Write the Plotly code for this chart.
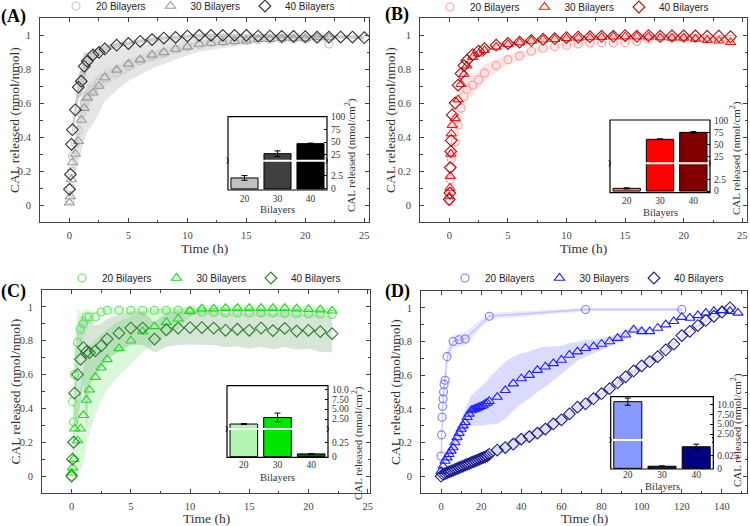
import plotly.graph_objects as go

W, H = 750, 526
SERIF = "Liberation Serif"
SANS = "Liberation Sans"


def fx(p):
    return p / W


def fy(p):
    return 1 - p / H


# ======================= DATA =======================
# ---- Panel A (grey) ----
A_t_early = [0, 0.083, 0.167, 0.25, 0.5, 0.75, 1, 1.25, 1.5, 2, 2.5, 3]
A_t20 = A_t_early + list(range(4, 23))
A_y20 = [0.03, 0.1, 0.2, 0.29, 0.36, 0.44, 0.54, 0.6, 0.64, 0.68, 0.72, 0.75,
         0.78, 0.82, 0.85, 0.875, 0.895, 0.915, 0.93, 0.945, 0.955, 0.96, 0.965,
         0.968, 0.972, 0.975, 0.976, 0.977, 0.975, 0.978, 0.947]
A_sd20 = [0, 0.02, 0.03, 0.04, 0.05, 0.06, 0.07, 0.07, 0.07, 0.06, 0.05, 0.05,
          0.04, 0.04, 0.03, 0.03, 0.03, 0.02, 0.02, 0.02, 0.02, 0.015, 0.015,
          0.01, 0.01, 0.01, 0.01, 0.01, 0.01, 0.01, 0.01]
A_t30 = A_t_early + list(range(4, 23))
A_y30 = [0.013, 0.05, 0.15, 0.25, 0.30, 0.375, 0.50, 0.57, 0.63, 0.66, 0.70, 0.75,
         0.795, 0.83, 0.855, 0.883, 0.898, 0.918, 0.93, 0.947, 0.953, 0.957, 0.963,
         0.967, 0.975, 0.975, 0.979, 0.979, 0.98, 0.986, 0.986]
A_sd30 = [0, 0.02, 0.04, 0.06, 0.1, 0.14, 0.18, 0.2, 0.2, 0.18, 0.16, 0.14,
          0.12, 0.1, 0.09, 0.08, 0.07, 0.06, 0.05, 0.045, 0.04, 0.035, 0.03,
          0.025, 0.02, 0.015, 0.01, 0.01, 0.01, 0.01, 0.01]
A_t40 = A_t_early + list(range(4, 26))
A_y40 = [0.092, 0.18, 0.357, 0.443, 0.56, 0.693, 0.728, 0.816, 0.845, 0.883, 0.898, 0.918,
         0.94, 0.95, 0.963, 0.973, 0.982, 0.986, 0.994, 0.998, 0.998, 0.998, 0.998,
         0.998, 0.994, 0.994, 0.992, 0.992, 0.99, 0.988, 0.988, 0.988, 0.988, 0.984]
A_sd40 = [0, 0.01, 0.02, 0.03, 0.05, 0.07, 0.08, 0.08, 0.05, 0.03, 0.02, 0.02,
          0.015, 0.01, 0.01, 0.01, 0.01, 0.01, 0.01, 0.01, 0.01, 0.01, 0.01,
          0.01, 0.01, 0.01, 0.01, 0.01, 0.01, 0.01, 0.01, 0.01, 0.01, 0.01]
A_bar = [2.1, 27, 47]
A_bar_err = [0.45, 5.5, 1.0]

# ---- Panel B (red) ----
B_t_early = [0, 0.05, 0.083, 0.125, 0.167, 0.25, 0.5, 0.75, 1, 1.25, 1.5, 2, 2.5, 3]
B_t = B_t_early + list(range(4, 25))
B_y20 = [0.02, 0.08, 0.15, 0.22, 0.27, 0.3, 0.37, 0.47, 0.57, 0.64, 0.68, 0.705, 0.737, 0.776,
         0.82, 0.855, 0.877, 0.904, 0.922, 0.932, 0.94, 0.947, 0.953, 0.955, 0.953,
         0.955, 0.962, 0.977, 0.98, 0.982, 0.98, 0.98, 0.978, 0.975, 0.975]
B_sd20 = [0, 0.01, 0.02, 0.03, 0.04, 0.05, 0.07, 0.08, 0.08, 0.08, 0.07, 0.06, 0.05, 0.05,
          0.04, 0.03, 0.025, 0.02, 0.015, 0.01, 0.01, 0.01, 0.01, 0.01, 0.01,
          0.01, 0.01, 0.01, 0.01, 0.01, 0.01, 0.01, 0.01, 0.01, 0.01]
B_y30 = [0.05, 0.10, 0.17, 0.30, 0.42, 0.47, 0.51, 0.62, 0.71, 0.77, 0.82, 0.87, 0.89, 0.91,
         0.93, 0.945, 0.955, 0.965, 0.972, 0.975, 0.98, 0.983, 0.985, 0.987,
         0.99, 0.99, 0.99, 0.99, 0.985, 0.983, 0.983, 0.977, 0.97, 0.966, 0.957]
B_sd30 = [0, 0.01, 0.01, 0.02, 0.02, 0.02, 0.03, 0.03, 0.02, 0.02, 0.02, 0.01, 0.01, 0.01,
          0.01, 0.01, 0.01, 0.01, 0.01, 0.01, 0.01, 0.01, 0.01, 0.01,
          0.01, 0.01, 0.01, 0.01, 0.01, 0.01, 0.01, 0.01, 0.01, 0.01, 0.01]
B_y40 = [0.033, 0.07, 0.22, 0.315, 0.38, 0.53, 0.60, 0.705, 0.773, 0.82, 0.85, 0.885, 0.905, 0.92,
         0.94, 0.95, 0.958, 0.968, 0.975, 0.978, 0.985, 0.988, 0.99, 0.993, 0.993,
         0.997, 0.993, 0.997, 0.993, 0.995, 0.995, 0.995, 0.993, 0.993, 0.99]
B_sd40 = B_sd30
B_bar = [0.58, 60.6, 75]
B_bar_err = [0.12, 1.0, 1.5]

# ---- Panel C (green) ----
C_t_early = [0, 0.083, 0.167, 0.25, 0.5, 0.75, 1, 1.25, 1.5, 2, 2.5, 3]
C_t = C_t_early + list(range(4, 23))
C_y20 = [0.0, 0.44, 0.32, 0.6, 0.79, 0.87, 0.9, 0.94, 0.94, 0.94, 0.97, 0.98,
         0.98, 0.98, 0.98, 0.98, 0.98, 0.98,
         0.975, 0.97, 0.968, 0.965, 0.965, 0.965, 0.965, 0.965, 0.962, 0.962, 0.96, 0.958, 0.955]
C_sd20 = [0, 0.1, 0.15, 0.25, 0.2, 0.1, 0.08, 0.05, 0.04, 0.03, 0.02, 0.02,
          0.02, 0.02, 0.02, 0.02, 0.02, 0.02,
          0.02, 0.02, 0.02, 0.02, 0.02, 0.02, 0.02, 0.02, 0.02, 0.02, 0.02, 0.02, 0.02]
C_y30 = [0.02, 0.05, 0.1, 0.28, 0.21, 0.28, 0.36, 0.45, 0.51, 0.585, 0.64, 0.69,
         0.755, 0.80, 0.855, 0.885, 0.91, 0.93, 0.975, 0.99, 0.99, 0.993, 0.993,
         0.993, 0.993, 0.993, 0.993, 0.99, 0.986, 0.984, 0.977]
C_sd30 = [0, 0.02, 0.05, 0.15, 0.2, 0.25, 0.28, 0.28, 0.26, 0.22, 0.2, 0.18,
          0.16, 0.14, 0.12, 0.1, 0.08, 0.06, 0.03, 0.02, 0.02, 0.02, 0.02,
          0.02, 0.02, 0.02, 0.02, 0.02, 0.02, 0.02, 0.02]
C_y40 = [0.0, 0.1, 0.2, 0.49, 0.6, 0.69, 0.76, 0.735, 0.73, 0.74, 0.77, 0.81,
         0.845, 0.875, 0.875, 0.81, 0.865, 0.875, 0.878, 0.878, 0.875, 0.862, 0.868,
         0.862, 0.875, 0.86, 0.873, 0.857, 0.862, 0.854, 0.842]
C_sd40_low = [0, 0.05, 0.1, 0.2, 0.3, 0.25, 0.22, 0.45, 0.2, 0.15, 0.13, 0.12,
              0.11, 0.1, 0.1, 0.08, 0.1, 0.1, 0.1, 0.1, 0.1, 0.1, 0.1,
              0.11, 0.11, 0.11, 0.11, 0.11, 0.11, 0.12, 0.11]
C_sd40_high = [0, 0.05, 0.1, 0.2, 0.3, 0.25, 0.2, 0.2, 0.2, 0.15, 0.13, 0.12,
               0.11, 0.1, 0.1, 0.1, 0.1, 0.1, 0.1, 0.1, 0.1, 0.1, 0.1,
               0.1, 0.1, 0.1, 0.1, 0.1, 0.1, 0.1, 0.1]
C_bar = [1.25, 2.9, 0.05]
C_bar_err = [0.1, 1.1, 0.003]

# ---- Panel D (blue) ----
D_t20 = [0, 0.25, 0.5, 0.75, 1, 1.25, 1.5, 2, 3, 6, 9, 12, 24, 72, 120]
D_y20 = [0.12, 0.245, 0.35, 0.415, 0.46, 0.5, 0.545, 0.57, 0.71, 0.80, 0.81, 0.815, 0.95, 0.99, 0.99]
D_sd20 = [0.02, 0.03, 0.04, 0.05, 0.05, 0.05, 0.05, 0.05, 0.05, 0.04, 0.04, 0.04, 0.02, 0.01, 0.01]
D_t30 = list(range(0, 25)) + list(range(28, 149, 4))
D_y30 = [0.03, 0.06, 0.09, 0.11, 0.13, 0.15, 0.17, 0.2, 0.23, 0.255, 0.28, 0.3, 0.32,
         0.35, 0.37, 0.39, 0.395, 0.4, 0.405, 0.41, 0.415, 0.42, 0.43, 0.435, 0.445,
         0.47, 0.51, 0.55, 0.58, 0.6, 0.63, 0.65, 0.67, 0.69, 0.72, 0.74, 0.76, 0.77,
         0.785, 0.80, 0.82, 0.84, 0.87, 0.86, 0.86, 0.88, 0.9, 0.92, 0.945, 0.94,
         0.955, 0.97, 0.98, 0.985, 0.98, 0.97]
D_sd30 = [0, 0.005, 0.01, 0.015, 0.02, 0.03, 0.035, 0.04, 0.05, 0.055, 0.06, 0.07, 0.075,
          0.08, 0.085, 0.09, 0.095, 0.1, 0.105, 0.11, 0.115, 0.12, 0.125, 0.13, 0.14,
          0.16, 0.17, 0.16, 0.15, 0.14, 0.13, 0.12, 0.1, 0.085, 0.07, 0.055, 0.05, 0.04,
          0.035, 0.03, 0.025, 0.025, 0.02, 0.02, 0, 0, 0, 0, 0, 0,
          0, 0, 0, 0, 0, 0]
D_t40 = list(range(0, 25)) + list(range(28, 145, 4))
D_y40 = [0.0, 0.01, 0.015, 0.02, 0.025, 0.03, 0.035, 0.04, 0.045, 0.05, 0.055, 0.06, 0.065,
         0.07, 0.075, 0.08, 0.085, 0.09, 0.095, 0.1, 0.105, 0.11, 0.115, 0.12, 0.13,
         0.155, 0.17, 0.19, 0.22, 0.235, 0.255, 0.28, 0.31, 0.335, 0.37, 0.41, 0.43,
         0.46, 0.49, 0.52, 0.555, 0.59, 0.625, 0.655, 0.68, 0.71, 0.75, 0.785, 0.835,
         0.86, 0.895, 0.925, 0.95, 0.975, 1.0]
D_sd40 = [0, 0.002, 0.003, 0.004, 0.005, 0.005, 0.006, 0.006, 0.007, 0.008, 0.008, 0.009, 0.01,
          0.01, 0.011, 0.012, 0.012, 0.013, 0.014, 0.015, 0.015, 0.016, 0.017, 0.018, 0.02,
          0.025, 0.03, 0.035, 0.035, 0.035, 0.035, 0.03, 0.03, 0.025, 0.02, 0.02, 0.02,
          0.015, 0.015, 0.015, 0.015, 0.015, 0.015, 0.015, 0.015, 0.015, 0.015, 0.015, 0.01,
          0.01, 0.01, 0.01, 0.01, 0.01, 0.01]
D_bar = [10.65, 0.004, 0.041]
D_bar_err = [0.9, 0.0006, 0.005]

SERIES_NAMES = ["20 Bilayers", "30 Bilayers", "40 Bilayers"]
BAR_CATS = ["20", "30", "40"]
X_TITLE = "Time (h)"
Y_TITLE = "CAL released (nmol/nmol)"
INSET_X_TITLE = "Bilayers"
INSET_Y_TITLE = "CAL released (nmol/cm<sup>2</sup>)"

# ======================= STYLE / LAYOUT SPEC =======================
# series entries: (t, y, sd_low, sd_high)
panels = [
    dict(label="(A)", label_pos=(13, 16), frame=(40, 369, 18, 222), xr=[-2.5, 25.4], dt=5, mdt=2.5,
         legend_pos=(198, 6), ytitle_x=15, xtitle_y=248,
         series=[(A_t20, A_y20, A_sd20, A_sd20), (A_t30, A_y30, A_sd30, A_sd30),
                 (A_t40, A_y40, A_sd40, A_sd40)],
         colors=["#c4c4c4", "#9a9a9a", "#303030"],
         bands=["rgba(190,190,190,0.25)", "rgba(170,170,170,0.30)", "rgba(110,110,110,0.35)"],
         line20=None,
         bars=A_bar, bar_err=A_bar_err, bar_colors=["#c0c0c0", "#404040", "#000000"],
         inset=(228, 327, 116.7, 190, 160.7), lo=[-0.2, 5.2], hi=[15, 100.6],
         lo_ticks=([0, 2.5], ["0", "2.5"]), hi_ticks=([25, 50, 75, 100], ["25", "50", "75", "100"]),
         ititle=(350, 155), btitle_y=209.5, xlab_stand=1),
    dict(label="(B)", label_pos=(397, 15), frame=(420, 747, 18, 222), xr=[-2.5, 25.4], dt=5, mdt=2.5,
         legend_pos=(572, 7), ytitle_x=391, xtitle_y=248,
         series=[(B_t, B_y20, B_sd20, B_sd20), (B_t, B_y30, B_sd30, B_sd30), (B_t, B_y40, B_sd40, B_sd40)],
         colors=["#ff9c9c", "#ff1a1a", "#a01414"],
         bands=["rgba(255,150,150,0.25)", "rgba(255,60,60,0.12)", "rgba(160,20,20,0.10)"],
         line20=None,
         bars=B_bar, bar_err=B_bar_err, bar_colors=["#f08080", "#ff0000", "#800000"],
         inset=(610, 710, 120, 192.7, 163.3), lo=[-0.36, 5.8], hi=[13, 100.6],
         lo_ticks=([0, 2.5], ["0", "2.5"]), hi_ticks=([25, 50, 75, 100], ["25", "50", "75", "100"]),
         ititle=(735, 158), btitle_y=212, xlab_stand=1),
    dict(label="(C)", label_pos=(13, 291), frame=(42, 370, 290, 493), xr=[-2.5, 25.2], dt=5, mdt=2.5,
         legend_pos=(204, 278), ytitle_x=15, xtitle_y=518,
         series=[(C_t, C_y20, C_sd20, C_sd20), (C_t, C_y30, C_sd30, C_sd30),
                 (C_t, C_y40, C_sd40_low, C_sd40_high)],
         colors=["#5ee65e", "#22d822", "#2e7d32"],
         bands=["rgba(100,230,100,0.22)", "rgba(30,210,30,0.16)", "rgba(46,125,50,0.20)"],
         line20=None,
         bars=C_bar, bar_err=C_bar_err, bar_colors=["#b3f5b3", "#00e600", "#006400"],
         inset=(227, 328, 385.7, 457.3, 429), lo=[-0.01, 0.47], hi=[0.25, 10.9],
         lo_ticks=([0, 0.25], ["0", "0.25"]),
         hi_ticks=([2.5, 5, 7.5, 10], ["2.50", "5.00", "7.50", "10.0"]),
         ititle=(357, 443), btitle_y=477, xlab_stand=0),
    dict(label="(D)", label_pos=(398, 291), frame=(421, 747, 291, 493), xr=[-10, 152.5], dt=20, mdt=10,
         legend_pos=(587, 278), ytitle_x=395, xtitle_y=518,
         series=[(D_t20, D_y20, D_sd20, D_sd20), (D_t30, D_y30, D_sd30, D_sd30),
                 (D_t40, D_y40, D_sd40, D_sd40)],
         colors=["#7b7bff", "#2020ff", "#1c1c8c"],
         bands=["rgba(120,120,255,0.16)", "rgba(90,90,255,0.22)", "rgba(40,40,170,0.15)"],
         line20="rgba(150,150,255,0.45)",
         bars=D_bar, bar_err=D_bar_err, bar_colors=["#8899ff", "#0000ee", "#000080"],
         inset=(610.7, 713.3, 396.7, 469, 440), lo=[-0.0013, 0.052], hi=[1.25, 11.9],
         lo_ticks=([0, 0.025], ["0", "0.025"]),
         hi_ticks=([2.5, 5, 7.5, 10], ["2.50", "5.00", "7.50", "10.0"]),
         ititle=(736, 430), btitle_y=486, xlab_stand=-2),
]

SYMBOLS = ["circle-open", "triangle-up-open", "diamond-open"]
SIZES = [8, 9, 9]

layout = dict(
    width=W, height=H, margin=dict(l=0, r=0, t=0, b=0, autoexpand=False),
    paper_bgcolor="white", plot_bgcolor="white",
    font=dict(family=SERIF, size=10, color="#333"),
    showlegend=True,
)
traces = []
shapes = []
annotations = []
axis_n = [0]


def add_axes(xd, yd):
    axis_n[0] += 1
    n = axis_n[0]
    s = "" if n == 1 else str(n)
    xd = dict(xd)
    yd = dict(yd)
    xd["anchor"] = "y" + s
    yd["anchor"] = "x" + s
    layout["xaxis" + s] = xd
    layout["yaxis" + s] = yd
    return "x" + s, "y" + s


def add_text(text, x, y, size, angle=0, bold=False, color="#333", family=SERIF):
    annotations.append(dict(text=("<b>%s</b>" % text) if bold else text, x=fx(x), y=fy(y),
                            xref="paper", yref="paper", xanchor="center", yanchor="middle",
                            textangle=angle, showarrow=False,
                            font=dict(family=family, size=size, color=color)))


AX_COL = "#444"
tickfont = dict(family=SERIF, size=10.5, color="#444")
main_refs = []
for i, p in enumerate(panels):
    l, r, t, b = p["frame"]
    common = dict(showline=True, linecolor=AX_COL, linewidth=1, mirror="ticks", ticks="inside",
                  ticklen=4, tickcolor=AX_COL, showgrid=False, zeroline=False, tickfont=tickfont)
    xd = dict(common, domain=[fx(l), fx(r)], range=p["xr"], dtick=p["dt"], tick0=0,
              minor=dict(dtick=p["mdt"], tick0=0, ticks="inside", ticklen=2.5, tickcolor=AX_COL, showgrid=False),
              ticklabelstandoff=3)
    yd = dict(common, domain=[fy(b), fy(t)], range=[-0.1, 1.1], dtick=0.2, tick0=0,
              minor=dict(dtick=0.1, tick0=0, ticks="inside", ticklen=2.5, tickcolor=AX_COL, showgrid=False),
              ticklabelstandoff=6)
    main_refs.append(add_axes(xd, yd))
    add_text(X_TITLE, (l + r) / 2, p["xtitle_y"], 13.5)
    add_text(Y_TITLE, p["ytitle_x"], (t + b) / 2, 13.5, angle=-90)

inset_refs = []
for i, p in enumerate(panels):
    l, r, t, b, brk = p["inset"]
    xcommon = dict(domain=[fx(l), fx(r)], range=[-0.5, 2.5], showgrid=False, zeroline=False, showline=False)
    ycommon = dict(side="right", ticks="inside", ticklen=3, tickcolor="black", showgrid=False,
                   zeroline=False, showline=False, tickfont=dict(family=SERIF, size=9.5, color="#333"),
                   ticklabelstandoff=3)
    xlo = dict(xcommon, tickmode="array", tickvals=[0, 1, 2], ticktext=BAR_CATS, ticks="",
               tickfont=dict(family=SERIF, size=9.5, color="#333"), ticklabelstandoff=p["xlab_stand"])
    ylo = dict(ycommon, domain=[fy(b), fy(brk + 1)], range=p["lo"], tickmode="array",
               tickvals=p["lo_ticks"][0], ticktext=p["lo_ticks"][1])
    xhi = dict(xcommon, showticklabels=False, ticks="")
    yhi = dict(ycommon, domain=[fy(brk - 1), fy(t)], range=p["hi"], tickmode="array",
               tickvals=p["hi_ticks"][0], ticktext=p["hi_ticks"][1])
    lo_ref = add_axes(xlo, ylo)
    hi_ref = add_axes(xhi, yhi)
    inset_refs.append((lo_ref, hi_ref))
    shapes.append(dict(type="rect", xref="paper", yref="paper", x0=fx(l), x1=fx(r), y0=fy(b), y1=fy(t),
                       line=dict(color="black", width=1.2), fillcolor="rgba(0,0,0,0)", layer="above"))
    for ex in (l, r):
        shapes.append(dict(type="path", xref="paper", yref="paper", layer="above",
                           path=f"M {fx(ex - 1.2)},{fy(brk + 3)} Q {fx(ex + 2)},{fy(brk)} {fx(ex - 1.2)},{fy(brk - 3)}",
                           line=dict(color="black", width=1)))
    add_text(INSET_X_TITLE, (l + r) / 2, p["btitle_y"], 10.5)

for i, p in enumerate(panels):
    xa, ya = main_refs[i]
    leg = "legend" if i == 0 else f"legend{i + 1}"
    for k, (tt, yy, sdl, sdh) in enumerate(p["series"]):
        lo = [y - s for y, s in zip(yy, sdl)]
        hi = [y + s for y, s in zip(yy, sdh)]
        traces.append(go.Scatter(x=tt, y=lo, mode="lines", line=dict(width=0), hoverinfo="skip",
                                 showlegend=False, xaxis=xa, yaxis=ya))
        traces.append(go.Scatter(x=tt, y=hi, mode="lines", line=dict(width=0), fill="tonexty",
                                 fillcolor=p["bands"][k], hoverinfo="skip", showlegend=False,
                                 xaxis=xa, yaxis=ya))
    if p["line20"]:
        tt, yy = p["series"][0][0], p["series"][0][1]
        traces.append(go.Scatter(x=tt, y=yy, mode="lines", line=dict(color=p["line20"], width=1.5),
                                 hoverinfo="skip", showlegend=False, xaxis=xa, yaxis=ya))
    for k, (tt, yy, _, _) in enumerate(p["series"]):
        traces.append(go.Scatter(x=tt, y=yy, mode="markers", name=SERIES_NAMES[k], legend=leg,
                                 marker=dict(symbol=SYMBOLS[k], size=SIZES[k], color=p["colors"][k],
                                             line=dict(width=1.1)),
                                 xaxis=xa, yaxis=ya))
    lx, ly = p["legend_pos"]
    layout[leg] = dict(orientation="h", x=fx(lx), y=fy(ly), xref="container", yref="container",
                       xanchor="center", yanchor="middle",
                       font=dict(family=SANS, size=10, color="#222"), bgcolor="rgba(0,0,0,0)",
                       itemwidth=30, traceorder="normal")
    for (bxa, bya) in inset_refs[i]:
        traces.append(go.Bar(x=[0, 1, 2], y=p["bars"], width=0.82,
                             marker=dict(color=p["bar_colors"], line=dict(color="black", width=1)),
                             error_y=dict(type="data", array=p["bar_err"], color="black", thickness=1, width=3),
                             showlegend=False, xaxis=bxa, yaxis=bya, hoverinfo="skip"))
    px_, py_ = p["label_pos"]
    add_text(p["label"], px_, py_, 18, bold=True, color="black")
    tx, ty = p["ititle"]
    add_text(INSET_Y_TITLE, tx, ty, 11, angle=-90)

layout["shapes"] = shapes
layout["annotations"] = annotations
layout["bargap"] = 0.1

fig = go.Figure(data=traces, layout=layout)
fig.write_html("out.html", config={"displayModeBar": False},
               post_script="document.body.style.margin='0';document.body.style.overflow='hidden';")
